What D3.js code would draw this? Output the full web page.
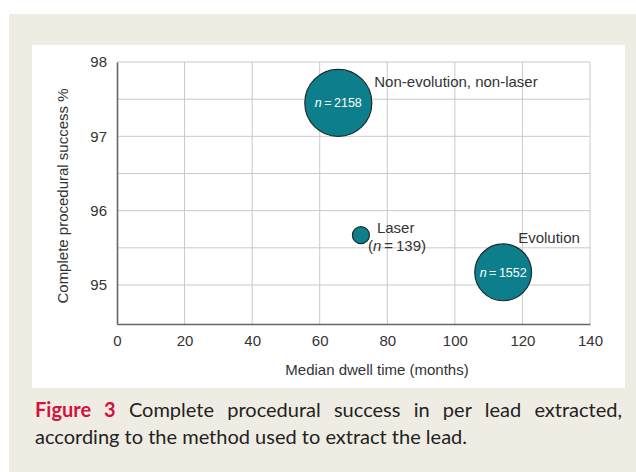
<!DOCTYPE html>
<html>
<head>
<meta charset="utf-8">
<script src="https://cdn.jsdelivr.net/npm/d3@7"></script>
<style>
  html, body { margin: 0; padding: 0; background: #fff; }
  svg text { font-family: "Liberation Sans", Arial, sans-serif; }
</style>
</head>
<body>
<svg id="chart" width="636" height="472"></svg>
<script>
// data
const groups = ["Non-evolution, non-laser", "Laser", "Evolution"];
const dwell = [65.5, 72.2, 114.3];          // median dwell time (months)
const success = [97.45, 95.67, 95.17];      // complete procedural success %
const counts = [2158, 139, 1552];
const xTicks = [0, 20, 40, 60, 80, 100, 120, 140];
const yTicks = [95, 96, 97, 98];

const svg = d3.select("#chart");

// page background / panels
svg.append("rect").attr("x", 9).attr("y", 14).attr("width", 627).attr("height", 458).attr("fill", "#efede3");
svg.append("rect").attr("x", 32).attr("y", 45).attr("width", 593).attr("height", 343).attr("fill", "#fff");

const x = d3.scaleLinear().domain([0, 140]).range([117, 590]);
const y = d3.scaleLinear().domain([94.475, 98]).range([324, 62]);
const r = d3.scaleSqrt().domain([0, 2158]).range([0, 33.5]);

// grid
const grid = svg.append("g").attr("stroke", "#c9c9c9").attr("stroke-width", 1);
grid.selectAll(".vg").data(xTicks.slice(1)).join("line")
    .attr("x1", d => x(d)).attr("x2", d => x(d))
    .attr("y1", y(98)).attr("y2", y(94.475));
grid.selectAll(".hg").data(d3.range(95, 98.01, 0.5)).join("line")
    .attr("x1", x(0)).attr("x2", x(140))
    .attr("y1", d => y(d)).attr("y2", d => y(d));

// axes
const xAxis = svg.append("g").attr("transform", `translate(0,${y(94.475)})`)
    .call(d3.axisBottom(x).tickValues(xTicks).tickFormat(d3.format("d")).tickSize(0).tickPadding(11));
const yAxis = svg.append("g").attr("transform", `translate(${x(0)},0)`)
    .call(d3.axisLeft(y).tickValues(yTicks).tickFormat(d3.format("d")).tickSize(0).tickPadding(10));
[xAxis, yAxis].forEach(a => {
  a.attr("font-size", 15).attr("font-family", "Liberation Sans, Arial, sans-serif");
  a.select(".domain").attr("stroke", "#666").attr("stroke-width", 1.6);
  a.selectAll("text").attr("fill", "#333");
});

svg.append("text").attr("x", 377).attr("y", 375)
    .attr("text-anchor", "middle").attr("font-size", 15).attr("fill", "#333")
    .text("Median dwell time (months)");
svg.append("text").attr("transform", "translate(68,196) rotate(-90)")
    .attr("text-anchor", "middle").attr("font-size", 15).attr("fill", "#333")
    .text("Complete procedural success %");

// bubbles
const pts = groups.map((g, i) => ({ g, x: dwell[i], y: success[i], n: counts[i] }));
svg.selectAll(".bub").data(pts).join("circle")
    .attr("cx", d => x(d.x)).attr("cy", d => y(d.y)).attr("r", d => r(d.n))
    .attr("fill", "#0d7f8c").attr("stroke", "#1d2b2e").attr("stroke-width", 1.2);

// n labels inside the big bubbles
pts.filter(d => d.n > 1000).forEach(d => {
  const t = svg.append("text").attr("x", x(d.x)).attr("y", y(d.y) + 4.5)
      .attr("text-anchor", "middle").attr("font-size", 12.5).attr("fill", "#fff");
  t.append("tspan").attr("font-style", "italic").text("n");
  t.append("tspan").text("\u2009=\u2009" + d.n);
});

// group labels
const lab = (tx, ty, s) => svg.append("text").attr("x", tx).attr("y", ty)
    .attr("font-size", 15).attr("fill", "#333").text(s);
lab(x(dwell[0]) + 36, y(success[0]) - 16, groups[0]);
lab(x(dwell[1]) + 16, y(success[1]) - 2, groups[1]);
const ln = svg.append("text").attr("x", x(dwell[1]) + 7).attr("y", y(success[1]) + 16)
    .attr("font-size", 15).attr("fill", "#333");
ln.append("tspan").text("(");
ln.append("tspan").attr("font-style", "italic").text("n");
ln.append("tspan").text("\u2009=\u2009" + counts[1] + ")");
lab(x(dwell[2]) + 15, y(success[2]) - 29, groups[2]);

// caption (first line justified via word spacing)
const capFont = "Lato, 'Open Sans', sans-serif";
const cap = svg.append("text").attr("x", 35).attr("y", 417)
    .attr("font-size", 20).attr("fill", "#222").style("font-family", capFont);
cap.append("tspan").attr("font-weight", "bold").attr("fill", "#d4123f").text("Figure 3");
cap.append("tspan").text(" Complete procedural success in per lead extracted,");
const natural = cap.node().getComputedTextLength();
cap.style("word-spacing", ((587 - natural) / 8) + "px");
svg.append("text").attr("x", 35).attr("y", 444)
    .attr("font-size", 20).attr("fill", "#222").style("font-family", capFont)
    .text("according to the method used to extract the lead.");
</script>
</body>
</html>
